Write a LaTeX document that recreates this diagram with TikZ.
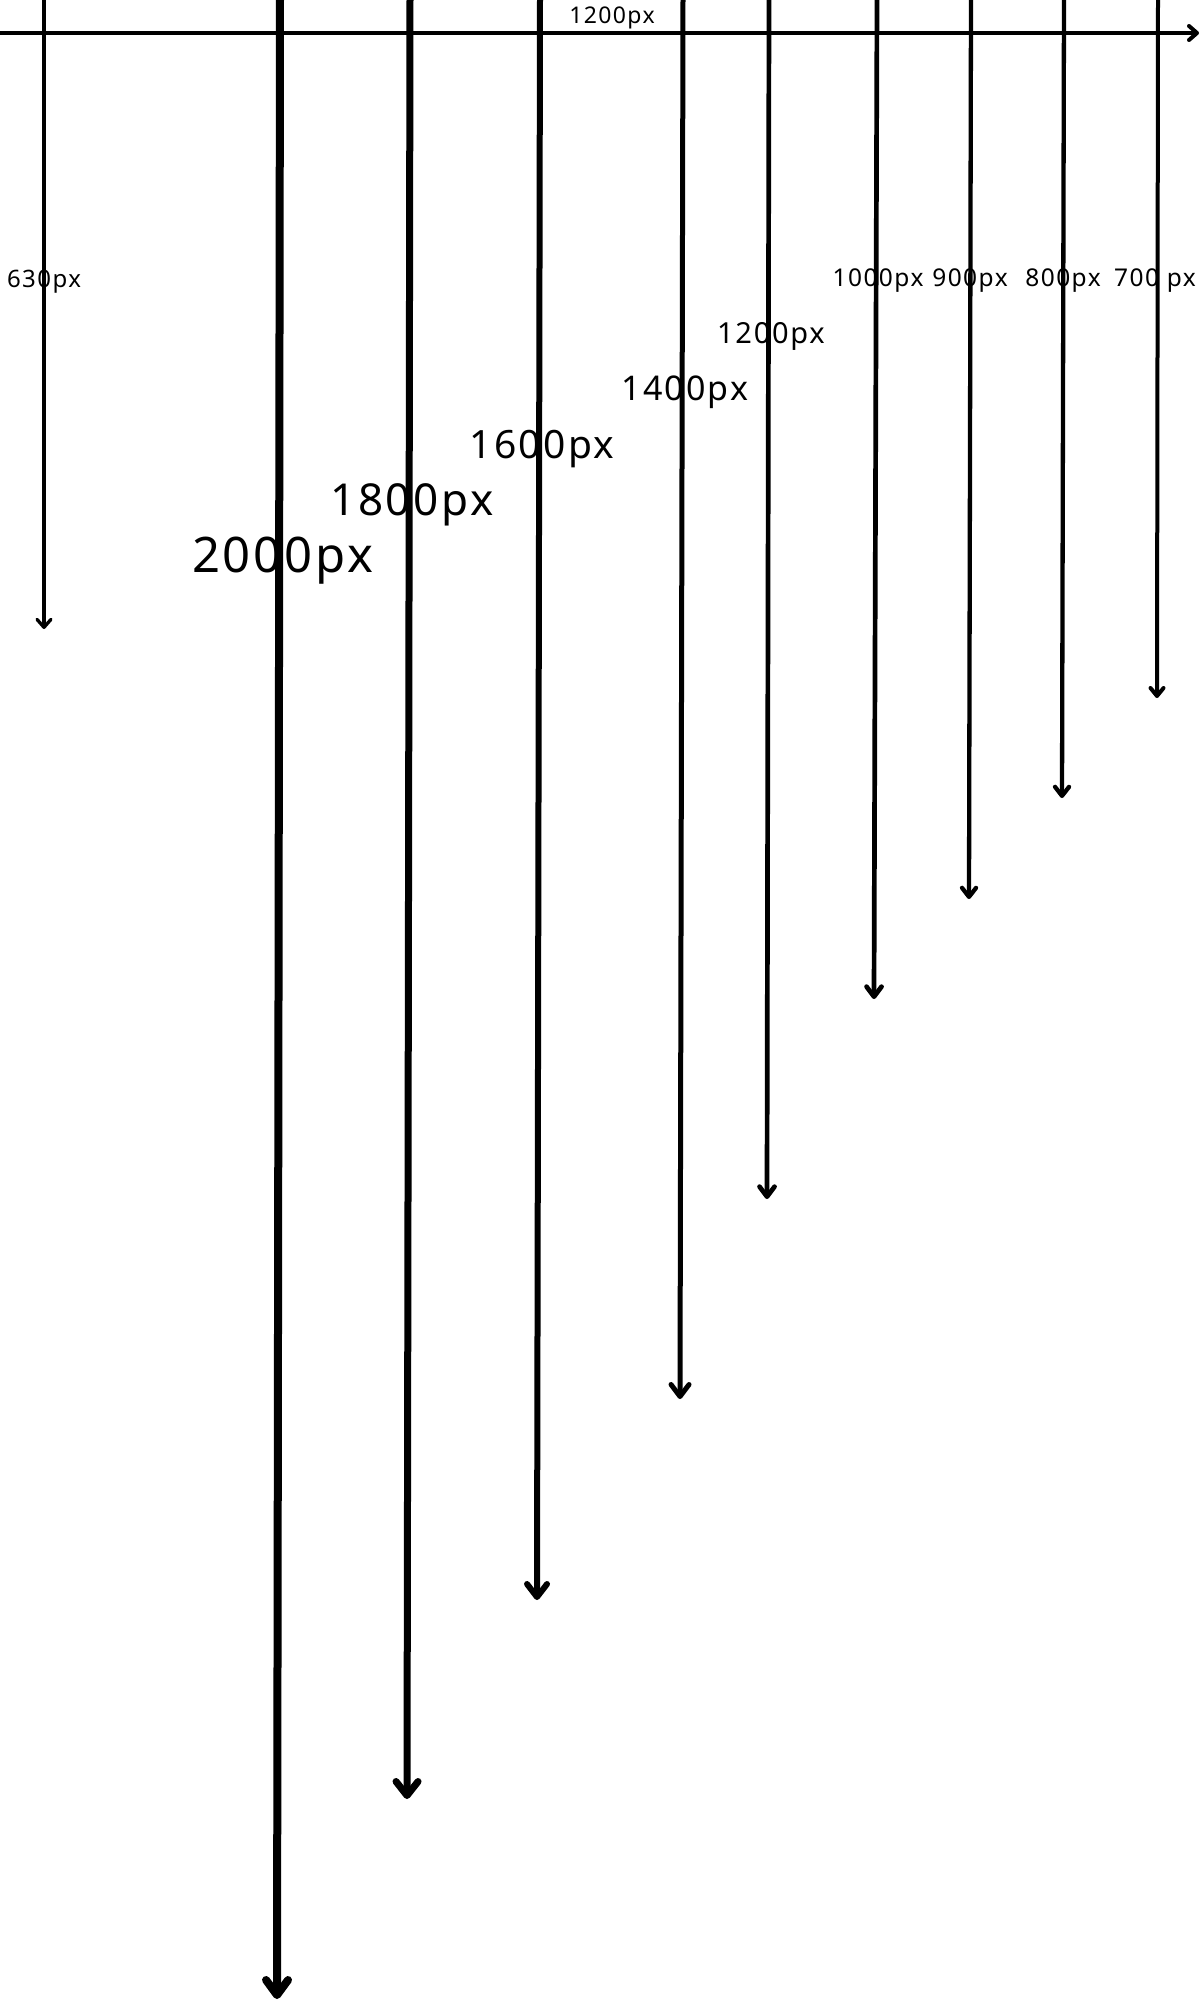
\documentclass[tikz,border=0pt]{standalone}
\usepackage{fontspec}
\setmainfont{Noto Sans}
\usetikzlibrary{arrows.meta}
\tikzset{
  varrow/.style n args={3}{line width=#1pt, -{Straight Barb[round,length=#2pt,width=#3pt]}},
  lbl/.style={anchor=base, inner sep=0pt, font=\fontsize{#1}{#1}\selectfont\addfontfeature{LetterSpace=6}},
}
\begin{document}
\begin{tikzpicture}[x=1pt,y=-1pt]
\useasboundingbox (0,0) rectangle (1200,2000);
% coordinates
\coordinate (hl) at (0,33);   \coordinate (hr) at (1199,33);
\coordinate (t630) at (44,-2);   \coordinate (b630) at (44,629);
\coordinate (t700) at (1158,-2); \coordinate (b700) at (1157,698);
\coordinate (t800) at (1064,-2); \coordinate (b800) at (1062,798);
\coordinate (t900) at (971,-2);  \coordinate (b900) at (969,899);
\coordinate (t1000) at (877,-2); \coordinate (b1000) at (874,999);
\coordinate (t1200) at (769,-2); \coordinate (b1200) at (767,1199);
\coordinate (t1400) at (683,-2); \coordinate (b1400) at (680,1399);
\coordinate (t1600) at (540,-2); \coordinate (b1600) at (537,1600);
\coordinate (t1800) at (410,-2); \coordinate (b1800) at (407,1799);
\coordinate (t2000) at (280,-2); \coordinate (b2000) at (277,1999);
% arrows
\draw[varrow={4}{8}{14}] (hl) -- (hr);
\draw[varrow={3.3}{8}{14}] (t630) -- (b630);
\draw[varrow={4}{8}{13}] (t700) -- (b700);
\draw[varrow={4.3}{9}{14}] (t800) -- (b800);
\draw[varrow={4.3}{9}{14}] (t900) -- (b900);
\draw[varrow={4.7}{10}{15}] (t1000) -- (b1000);
\draw[varrow={4.7}{10}{15}] (t1200) -- (b1200);
\draw[varrow={5}{12}{18}] (t1400) -- (b1400);
\draw[varrow={6}{13}{20}] (t1600) -- (b1600);
\draw[varrow={7}{14}{22}] (t1800) -- (b1800);
\draw[varrow={8}{15}{22}] (t2000) -- (b2000);
% labels
\node[lbl=23] (lw) at (612,23) {1200px};
\node[lbl=24] (l630) at (44,287) {630px};
\node[lbl=49] (l2000) at (283,572) {2000px};
\node[lbl=44] (l1800) at (412,515) {1800px};
\node[lbl=39] (l1600) at (542,458) {1600px};
\node[lbl=34] (l1400) at (685,400) {1400px};
\node[lbl=29] (l1200) at (771,343) {1200px};
\node[lbl=24.5] (l1000) at (878,286) {1000px};
\node[lbl=24.5] (l900) at (970,286) {900px};
\node[lbl=24.5] (l800) at (1063,286) {800px};
\node[lbl=24.5] (l700) at (1155,286) {700 px};
\end{tikzpicture}
\end{document}
